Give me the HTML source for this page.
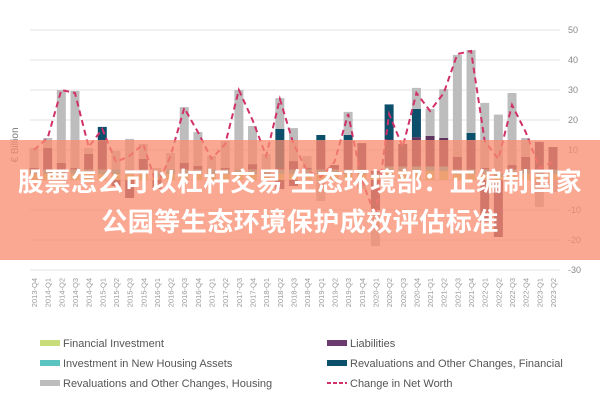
<!DOCTYPE html>
<html><head><meta charset="utf-8"><style>
html,body{margin:0;padding:0;background:#fff;width:600px;height:400px;overflow:hidden}
svg{display:block;font-family:"Liberation Sans",sans-serif}
#banner{position:absolute;left:0;top:140px;width:600px;height:120px;background:rgba(248,140,110,0.76);color:#fff;font-family:"Liberation Sans","Noto Sans CJK SC",sans-serif;font-weight:bold;text-align:center;font-size:26px;line-height:40px;padding-top:22px;box-sizing:border-box;letter-spacing:0.5px}
</style></head><body>
<svg id="chart" width="600" height="400"></svg>
<div id="banner">股票怎么可以杠杆交易 生态环境部：正编制国家<br>公园等生态环境保护成效评估标准</div>
<script>
const categories=["2013-Q4","2014-Q1","2014-Q2","2014-Q3","2014-Q4","2015-Q1","2015-Q2","2015-Q3","2015-Q4","2016-Q1","2016-Q2","2016-Q3","2016-Q4","2017-Q1","2017-Q2","2017-Q3","2017-Q4","2018-Q1","2018-Q2","2018-Q3","2018-Q4","2019-Q1","2019-Q2","2019-Q3","2019-Q4","2020-Q1","2020-Q2","2020-Q3","2020-Q4","2021-Q1","2021-Q2","2021-Q3","2021-Q4","2022-Q1","2022-Q2","2022-Q3","2022-Q4","2023-Q1","2023-Q2"];
const finInv=[2,2,2,2,2,2,2,2,2,1,2,2,2,2,2,2,2,2,2,2,2,2,2,2,2,1,3,3,3,3,3,2,2,2,1,2,2,2,2];
const housingInv=[1.5,1.5,1.5,1.5,1.5,1.5,1.5,1.5,1.5,1.5,1.5,1.5,1.5,1.5,1.5,1.5,1.5,1.5,1.5,1.5,1.5,1.5,1.5,1.5,1.5,1,1.5,1.5,1.5,1.5,1.5,1.5,1.5,1.5,1,1.5,1.5,1.5,1.5];
const liabilities=[0.5,7.2,2.2,0.5,5.2,9.8,0,0,3.5,0,0,2.2,1.2,0,0.5,0,1.8,0,0.5,2.8,0.5,9.5,1.5,9.8,8.8,1,9,7.5,9.8,10.2,9.5,4.2,9.8,0.5,0,1.5,4.2,9.2,7.5];
const finReval=[0,0,0,0,0,4.4,0,0,0,0,0,0,0,0,0,0,0,0,13,0,0,2,0,1.7,0,0,11.7,0,9.4,0,0,0,2.4,0,0,0,0,0,0];
const housingReval=[6.7,3.3,24.3,25.7,2,0,6.2,10.2,5,1.5,5.5,18.6,11.3,4.5,9,26.5,12.7,5.2,10.3,11,4,0,0,7.7,0,0,0,0,7,9,16.3,34,27.6,21.7,19.8,24,6.3,0,0];
const liabNeg=[0,0,0,0,0,0,-2,-6,0,-3,0,0,0,0,0,0,0,0,-3,-2,0,0,0,0,-1,-10,0,0,0,0,0,0,0,-14,-19,0,0,0,0];
const housingNeg=[0,0,0,0,0,0,0,0,0,0,0,0,0,0,0,0,0,0,0,0,0,-7,0,0,-2,-12,0,0,0,0,0,0,0,0,0,0,0,-9,-4];
const netWorth=[10,14,30,29,11,17,6,8,12,-2,8,24,16,7,12,30,20,8,27,12,3,1,6,22,0,-12,22,11,29,23,29,42,43,13,7,25,16,4,6];
const yTicks=[50,40,30,20,10,0,-10,-20,-30];
const NS="http://www.w3.org/2000/svg",svg=document.getElementById('chart');
const x0=34,step=(553-34)/38,bw=9;
const X=i=>x0+i*step, Y=v=>180-v*3;
function mk(t,a,p){const e=document.createElementNS(NS,t);for(const k in a)e.setAttribute(k,a[k]);(p||svg).appendChild(e);return e;}
const grid=mk('g',{});
yTicks.forEach(v=>{const l=mk('line',{x1:30,x2:560,y1:Y(v),y2:Y(v),stroke:'#e3e3e3','stroke-width':1},grid);
const t=mk('text',{x:568,y:Y(v)+3,'font-size':9,fill:'#888'});t.textContent=v;});
const yt=mk('text',{x:18,y:145,'font-size':10,fill:'#777','text-anchor':'middle',transform:'rotate(-90 18 145)'});yt.textContent='€ Billion';
const series=[[finInv,'#c9dc7a'],[housingInv,'#5bc4c0'],[liabilities,'#5f3560'],[finReval,'#0c4f6b'],[housingReval,'#bdbdbd']];
categories.forEach((c,i)=>{let top=0;
series.forEach(([arr,col])=>{const v=arr[i];if(v>0){const r=mk('rect',{x:X(i)-bw/2,y:Y(top+v),width:bw,height:v*3,fill:col});top+=v;}});
let bot=0;[[liabNeg,'#5f3560'],[housingNeg,'#bdbdbd']].forEach(([arr,col])=>{const v=arr[i];if(v<0){const r=mk('rect',{x:X(i)-bw/2,y:Y(bot),width:bw,height:-v*3,fill:col});bot+=v;}});
const t=mk('text',{x:X(i)+3,y:278,'font-size':7.5,fill:'#999','text-anchor':'end',transform:`rotate(-90 ${X(i)+3} 278)`});t.textContent=c;});
const pl=mk('polyline',{points:netWorth.map((v,i)=>X(i)+','+Y(v)).join(' '),fill:'none',stroke:'#d1306a','stroke-width':2,'stroke-dasharray':'6 4'});

const leg=[['Financial Investment','#c9dc7a',40,343,0],['Investment in New Housing Assets','#5bc4c0',40,363,0],['Revaluations and Other Changes, Housing','#bdbdbd',40,383,0],['Liabilities','#6b3a6e',327,343,0],['Revaluations and Other Changes, Financial','#0c4f6b',327,363,0],['Change in Net Worth','#d1306a',327,383,1]];
leg.forEach(([n,c,x,y,d])=>{const g=mk('g',{});
if(d)mk('line',{x1:x,x2:x+20,y1:y,y2:y,stroke:c,'stroke-width':2,'stroke-dasharray':'4 2'},g);else mk('rect',{x:x,y:y-3,width:20,height:6,fill:c},g);
const t=mk('text',{x:x+23,y:y+4,'font-size':11,fill:'#555'},g);t.textContent=n;});
</script>
</body></html>
